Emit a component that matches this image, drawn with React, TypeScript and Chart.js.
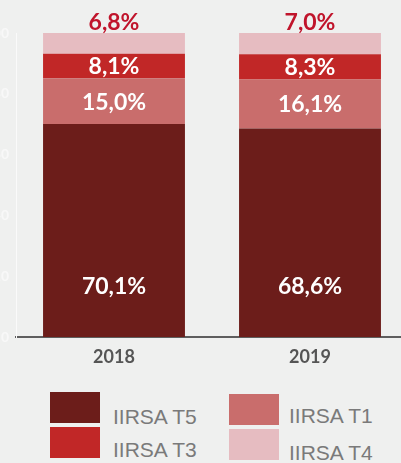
import React, { useEffect, useRef } from "react";
import { Chart, registerables } from "chart.js";

Chart.register(...registerables);

const categories = ["2018", "2019"];
const seriesNames = ["IIRSA T5", "IIRSA T1", "IIRSA T3", "IIRSA T4"];
const t5Values = [70.1, 68.6];
const t1Values = [15.0, 16.1];
const t3Values = [8.1, 8.3];
const t4Values = [6.8, 7.0];
const seriesColors = ["#6C1D1A", "#C96D6C", "#C12727", "#E6BCC1"];
const yTicks = [0, 20, 40, 60, 80, 100];

const fmt = (v: number) => v.toFixed(1).replace(".", ",") + "%";

const labelPlugin = {
  id: "segLabels",
  afterDatasetsDraw(chart: any) {
    const ctx = chart.ctx;
    const yScale = chart.scales.y;
    ctx.save();
    ctx.font = "bold 23px Lato";
    ctx.textAlign = "center";
    chart.data.datasets.forEach((ds: any, di: number) => {
      const meta = chart.getDatasetMeta(di);
      meta.data.forEach((bar: any, i: number) => {
        const v = ds.data[i];
        const text = fmt(v);
        if (di === 3) {
          ctx.fillStyle = "#C0142B";
          ctx.textBaseline = "alphabetic";
          ctx.fillText(text, bar.x, bar.y - 3);
        } else if (di === 0) {
          ctx.fillStyle = "#FFFFFF";
          ctx.textBaseline = "middle";
          ctx.fillText(text, bar.x, yScale.getPixelForValue(17) + 1);
        } else {
          ctx.fillStyle = "#FFFFFF";
          ctx.textBaseline = "middle";
          ctx.fillText(text, bar.x, (bar.y + bar.base) / 2 + 1);
        }
      });
    });
    ctx.restore();
  },
};

function ChartCanvas() {
  const ref = useRef<HTMLCanvasElement | null>(null);
  useEffect(() => {
    if (!ref.current) return;
    const values = [t5Values, t1Values, t3Values, t4Values];
    const chart = new Chart(ref.current, {
      type: "bar",
      data: {
        labels: categories,
        datasets: values.map((d, i) => ({
          label: seriesNames[i],
          data: d,
          backgroundColor: seriesColors[i],
          borderWidth: 0,
          categoryPercentage: 1,
          barPercentage: 0.724,
        })),
      },
      options: {
        animation: false,
        responsive: false,
        maintainAspectRatio: false,
        layout: { padding: { top: 33, right: 0, left: 0, bottom: 0 } },
        plugins: { legend: { display: false }, tooltip: { enabled: false } },
        scales: {
          x: {
            stacked: true,
            grid: { display: false, drawTicks: false },
            border: { display: true, color: "#5E5E5E", width: 2 },
            ticks: {
              color: "#555555",
              font: { family: "Lato", size: 18, weight: "bold" },
              padding: 9,
            },
            afterFit: (s: any) => {
              s.height = 38;
            },
          },
          y: {
            stacked: true,
            min: 0,
            max: 100,
            afterBuildTicks: (s: any) => {
              s.ticks = yTicks.map((v) => ({ value: v }));
            },
            grid: { display: false, drawTicks: false },
            border: { display: true, color: "#FAFAFA", width: 1 },
            ticks: {
              color: "#F8F8F8",
              font: { family: "Lato", size: 14, weight: "bold" },
              padding: 7,
            },
            afterFit: (s: any) => {
              s.width = 16;
            },
          },
        },
      },
      plugins: [labelPlugin],
    });
    return () => chart.destroy();
  }, []);
  return <canvas ref={ref} width={408} height={375} style={{ display: "block" }} />;
}

const legendPos = [
  { box: [50, 392], text: [113, 406] },
  { box: [229, 394], text: [289, 405] },
  { box: [50, 427], text: [113, 439] },
  { box: [229, 429], text: [289, 442] },
];

export default function App() {
  useEffect(() => {
    document.body.style.margin = "0";
    document.body.style.background = "#EFF0EF";
  }, []);
  return (
    <div
      style={{
        position: "relative",
        width: 401,
        height: 463,
        overflow: "hidden",
        background: "#EFF0EF",
      }}
    >
      <div style={{ position: "absolute", left: 0, top: 0 }}>
        <ChartCanvas />
      </div>
      {seriesNames.map((name, i) => (
        <React.Fragment key={name}>
          <div
            style={{
              position: "absolute",
              left: legendPos[i].box[0],
              top: legendPos[i].box[1],
              width: 50,
              height: 31,
              background: seriesColors[i],
            }}
          />
          <div
            style={{
              position: "absolute",
              left: legendPos[i].text[0],
              top: legendPos[i].text[1],
              fontFamily: "Arial, 'Liberation Sans', sans-serif",
              fontSize: 21,
              lineHeight: "21px",
              color: "#7A7A7A",
              whiteSpace: "nowrap",
            }}
          >
            {name}
          </div>
        </React.Fragment>
      ))}
    </div>
  );
}
